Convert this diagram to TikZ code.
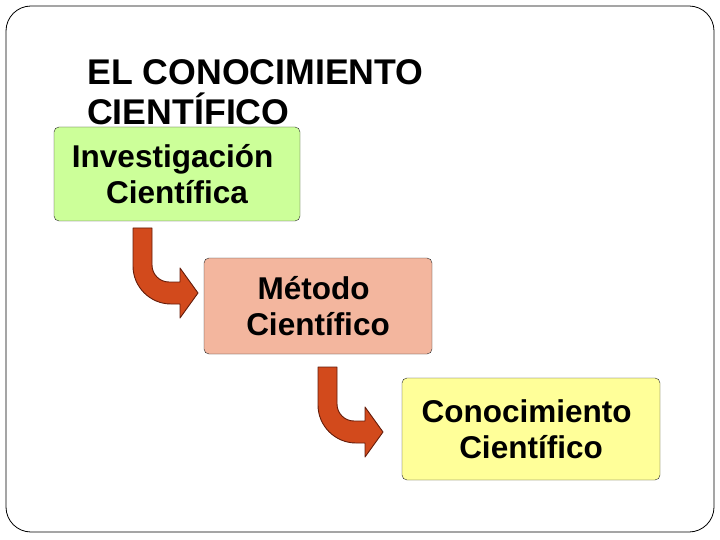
\documentclass[tikz,border=0pt]{standalone}
\usepackage{fontspec}
\setmainfont{Liberation Sans}
\usetikzlibrary{positioning}

\definecolor{boxgreen}{RGB}{204,255,153}
\definecolor{boxsalmon}{RGB}{243,182,158}
\definecolor{boxyellow}{RGB}{255,255,153}
\definecolor{arrowfill}{RGB}{210,74,28}
\definecolor{arrowline}{RGB}{100,28,10}

\begin{document}
\begin{tikzpicture}[
  x=1pt, y=-1pt,
  box/.style={draw=black!85, rounded corners=5pt, inner sep=0pt,
              align=center, font=\fontsize{31.5}{36.5}\selectfont\bfseries},
  arrowsh/.style={draw=arrowline, fill=arrowfill, line width=0.9pt, line join=round},
  bend/.pic={\path[arrowsh] (0,0) -- (19,0) -- (19,37)
      .. controls (19,46.4) and (26.6,54) .. (36,54) -- (47,54) -- (47,40)
      -- (65,65) -- (47,90) -- (47,76) -- (38,76)
      .. controls (17.1,76) and (0,58.9) .. (0,38) -- cycle;}
]
\useasboundingbox (0,0) rectangle (720,540);
\draw[black, line width=0.8pt, rounded corners=25pt] (6,6) rectangle (714,532);

% title (base = last line)
\node[anchor=base west, align=left, inner sep=0pt,
      font=\fontsize{35.7}{40}\selectfont\bfseries] (title) at (87,125)
  {EL CONOCIMIENTO\\CIENTÍFICO};

% boxes
\node[box, fill=boxgreen, minimum width=246pt, minimum height=94pt] (inv) at (177,174)
  {Investigación\ \mbox{}\\Científica};
\node[box, fill=boxsalmon, minimum width=228pt, minimum height=96pt] (met) at (318,306)
  {Método\ \mbox{}\\Científico};
\node[box, fill=boxyellow, minimum width=258pt, minimum height=102pt] (con) at (531,429)
  {Conocimiento\ \mbox{}\\Científico};

% bent arrows
\pic at (133,228) {bend};
\pic at (318,367) {bend};
\end{tikzpicture}
\end{document}
